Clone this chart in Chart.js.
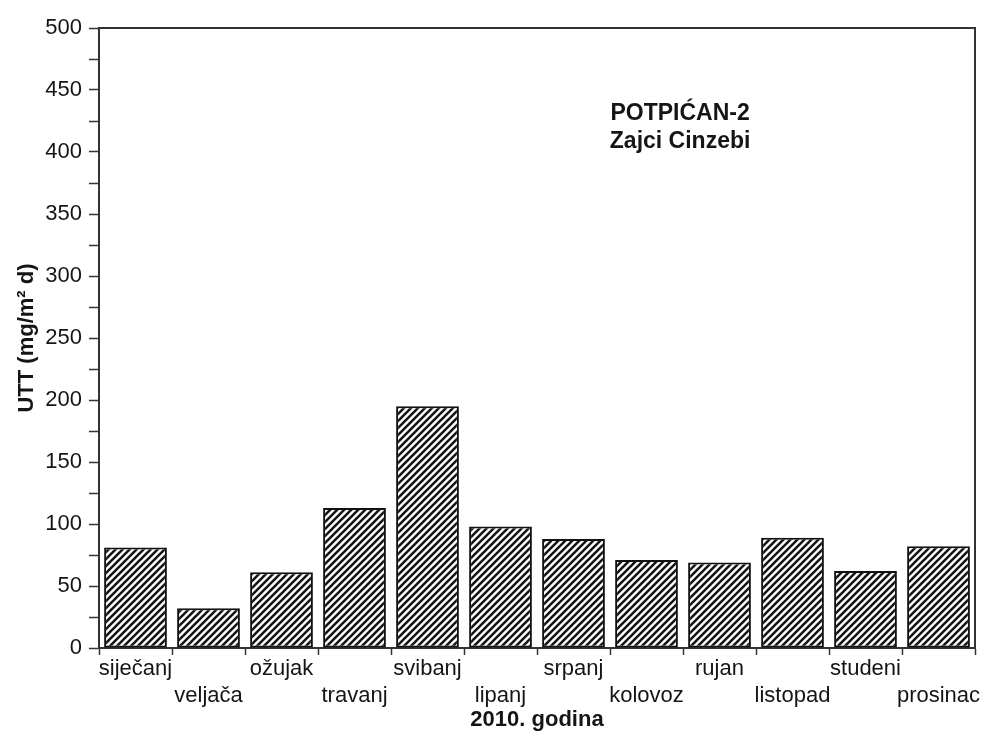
<!DOCTYPE html>
<html>
<head>
<meta charset="utf-8">
<script src="https://cdn.jsdelivr.net/npm/chart.js@4.4.1/dist/chart.umd.min.js"></script>
<style>
  html, body { margin: 0; padding: 0; background: #fff; }
  #wrap { width: 985px; height: 737px; }
</style>
</head>
<body>
<div id="wrap"><canvas id="utt" width="985" height="737"></canvas></div>
<script>
// POTPICAN-2 / Zajci Cinzebi - UTT per month, 2010

const months = ['siječanj', 'veljača', 'ožujak', 'travanj', 'svibanj', 'lipanj',
    'srpanj', 'kolovoz', 'rujan', 'listopad', 'studeni', 'prosinac'];
const uttValues = [81, 32, 61, 113, 195, 98, 88, 71, 69, 89, 62, 82];
const stationLines = ['POTPIĆAN-2', 'Zajci Cinzebi'];
const xTitle = '2010. godina';
const yTitle = 'UTT (mg/m² d)';

const FONT = '"Liberation Sans", Arial, sans-serif';
const INK = '#151515';

function makeHatch() {
    const s = 7;
    const c = document.createElement('canvas');
    c.width = s;
    c.height = s;
    const g = c.getContext('2d');
    g.fillStyle = '#fff';
    g.fillRect(0, 0, s, s);
    g.strokeStyle = '#161616';
    g.lineWidth = 2.6;
    g.beginPath();
    g.moveTo(0, s); g.lineTo(s, 0);
    g.moveTo(-1, 1); g.lineTo(1, -1);
    g.moveTo(s - 1, s + 1); g.lineTo(s + 1, s - 1);
    g.stroke();
    return g.createPattern(c, 'repeat');
}

// frame on top and right, plus the station label
const framePlugin = {
    id: 'frame',
    afterDraw(chart) {
        const { ctx, chartArea: a, scales } = chart;
        ctx.save();
        ctx.strokeStyle = '#333';
        ctx.lineWidth = 2;
        ctx.beginPath();
        ctx.moveTo(a.left, a.top);
        ctx.lineTo(a.right, a.top);
        ctx.lineTo(a.right, a.bottom);
        ctx.stroke();

        ctx.fillStyle = INK;
        ctx.font = `bold 23px ${FONT}`;
        ctx.textAlign = 'center';
        ctx.textBaseline = 'middle';
        const cx = scales.x.getPixelForValue(7.46);
        ctx.fillText(stationLines[0], cx, scales.y.getPixelForValue(431));
        ctx.fillText(stationLines[1], cx, scales.y.getPixelForValue(408));
        ctx.restore();
    }
};

new Chart(document.getElementById('utt'), {
    type: 'bar',
    data: {
        labels: months,
        datasets: [{
            label: 'UTT',
            data: uttValues,
            backgroundColor: makeHatch(),
            borderColor: '#111',
            borderWidth: 2,
            borderSkipped: false,
            barPercentage: 0.86,
            categoryPercentage: 1.0
        }]
    },
    options: {
        responsive: false,
        animation: false,
        layout: { padding: { top: 28, right: 10, left: 0, bottom: 0 } },
        plugins: {
            legend: { display: false },
            tooltip: { enabled: false }
        },
        scales: {
            x: {
                offset: true,
                border: { color: '#333', width: 2 },
                grid: {
                    offset: true,
                    drawOnChartArea: false,
                    drawTicks: true,
                    tickLength: 7,
                    tickWidth: 1.5,
                    tickColor: '#333'
                },
                ticks: {
                    autoSkip: false,
                    maxRotation: 0,
                    padding: 0,
                    color: INK,
                    font: { family: FONT, size: 22, lineHeight: '27px' },
                    callback: function (val, i) {
                        const name = this.getLabelForValue(val);
                        return i % 2 === 0 ? name : ['', name];
                    }
                },
                title: {
                    display: true,
                    text: xTitle,
                    color: INK,
                    font: { family: FONT, size: 22, weight: 'bold' },
                    padding: { top: 0, bottom: 4 }
                },
                afterFit(scale) { scale.height = 89; }
            },
            y: {
                min: 0,
                max: 500,
                border: { color: '#333', width: 2 },
                grid: {
                    drawOnChartArea: false,
                    drawTicks: true,
                    tickLength: 10,
                    tickWidth: 1.5,
                    tickColor: '#333'
                },
                ticks: {
                    stepSize: 25,
                    padding: 7,
                    color: INK,
                    font: { family: FONT, size: 22 },
                    callback: v => (v % 50 === 0 ? v : '')
                },
                title: {
                    display: true,
                    text: yTitle,
                    color: INK,
                    font: { family: FONT, size: 22, weight: 'bold' },
                    padding: { top: 14, bottom: 0 }
                },
                afterFit(scale) { scale.width = 99; }
            }
        }
    },
    plugins: [framePlugin]
});
</script>
</body>
</html>
